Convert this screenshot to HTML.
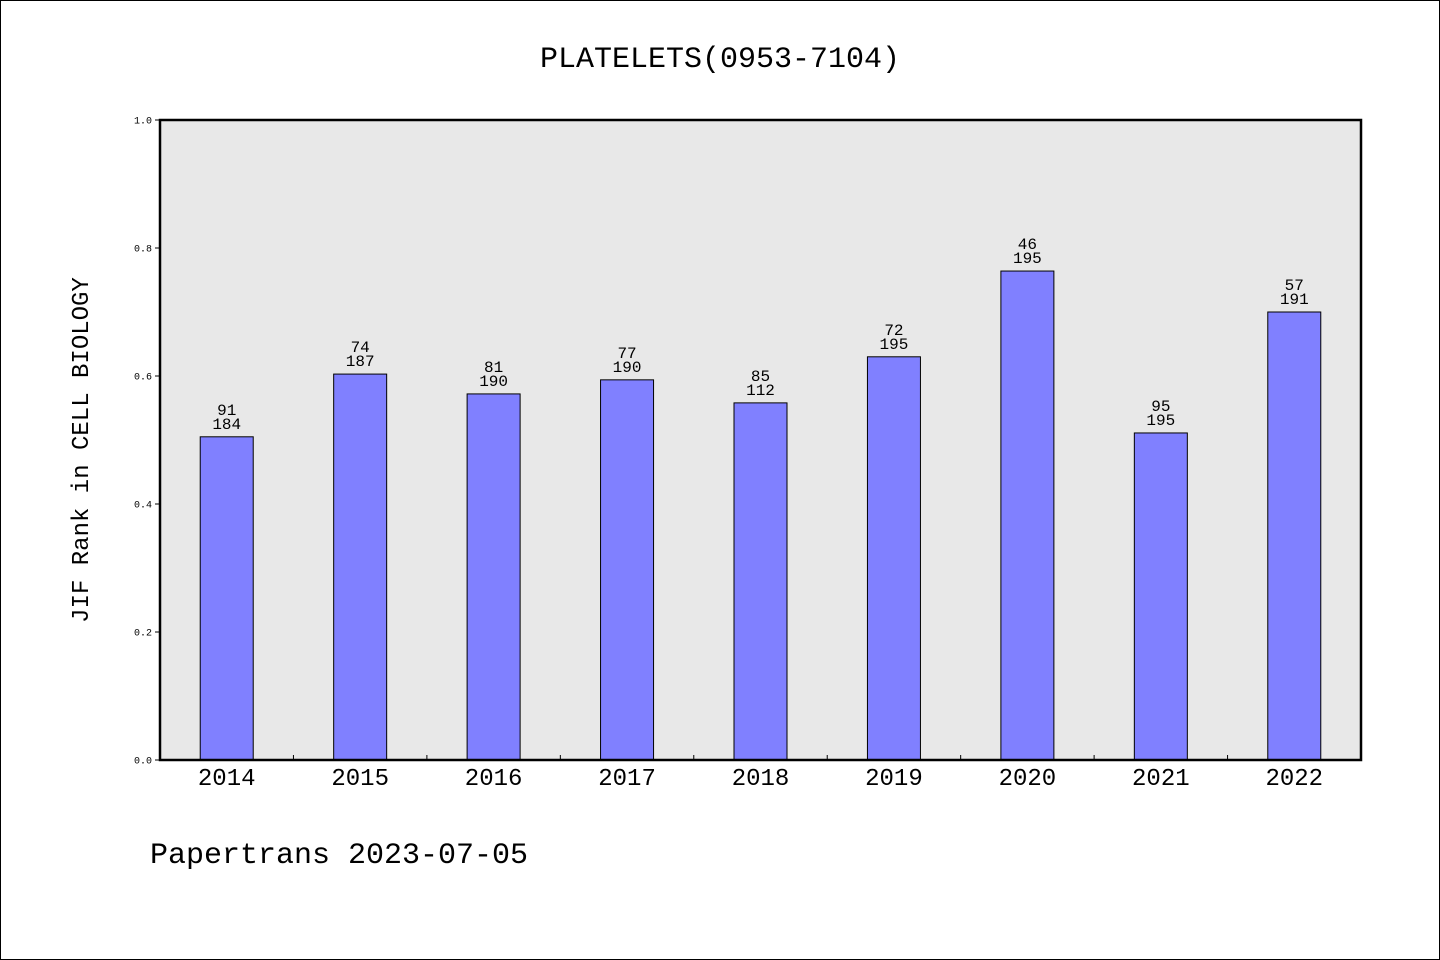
<!DOCTYPE html>
<html><head><meta charset="utf-8"><style>
html,body{margin:0;padding:0;background:#fff}
svg{display:block}
text{font-family:"Liberation Mono",monospace;fill:#000}
</style></head><body>
<svg id="chart" width="1440" height="960">
<rect x="0.5" y="0.5" width="1439" height="959" fill="#fff" stroke="#000"/>
<text x="720" y="67" font-size="30" text-anchor="middle">PLATELETS(0953-7104)</text>
<rect x="160" y="120" width="1201" height="640" fill="#e8e8e8"/>
<g id="marks"></g>
<rect x="160" y="120" width="1201" height="640" fill="none" stroke="#000" stroke-width="2.5"/>
<text transform="translate(88,450) rotate(-90)" font-size="24" text-anchor="middle">JIF Rank in CELL BIOLOGY</text>
<text x="150" y="863" font-size="30">Papertrans 2023-07-05</text>
</svg>
<script>
const categories=["2014","2015","2016","2017","2018","2019","2020","2021","2022"];
const values=[0.505,0.603,0.572,0.594,0.558,0.630,0.764,0.511,0.700];
const ranks=["91","74","81","77","85","72","46","95","57"];
const totals=["184","187","190","190","112","195","195","195","191"];
const yTicks=[0,0.2,0.4,0.6,0.8,1.0];
const NS="http://www.w3.org/2000/svg";
const X0=160,X1=1361,Y0=760,Y1=120;
const band=(X1-X0)/categories.length;
const xC=i=>X0+band*(i+0.5);
const yS=v=>Y0-(Y0-Y1)*v;
const g=document.getElementById('marks');
function mk(t,a){const e=document.createElementNS(NS,t);for(const k in a)e.setAttribute(k,a[k]);g.appendChild(e);return e;}
yTicks.forEach(v=>{
 const l=mk('line',{x1:X0-5,x2:X0,y1:yS(v),y2:yS(v),stroke:'#000'});
 
 
 const t=mk('text',{x:X0-8,y:yS(v)+3.5,'font-size':10,'text-anchor':'end'});
 t.textContent=v.toFixed(1);
 
 
});
for(let i=1;i<categories.length;i++){
 const l=mk('line',{x1:X0+band*i,x2:X0+band*i,y1:Y0,y2:Y0-5,stroke:'#000'});
 
 
}
categories.forEach((c,i)=>{
 const w=53,top=yS(values[i]);
 const r=mk('rect',{x:xC(i)-w/2,y:top,width:w,height:Y0-top,fill:'#8080ff',stroke:'#000','stroke-width':1});
 
 
 const t1=mk('text',{x:xC(i),y:top-22,'font-size':16,'text-anchor':'middle'});
 t1.textContent=ranks[i];
 
 
 const t2=mk('text',{x:xC(i),y:top-8,'font-size':16,'text-anchor':'middle'});
 t2.textContent=totals[i];
 
 
 const xl=mk('text',{x:xC(i),y:785,'font-size':24,'text-anchor':'middle'});
 xl.textContent=c;
 
 
});
</script>
</body></html>
